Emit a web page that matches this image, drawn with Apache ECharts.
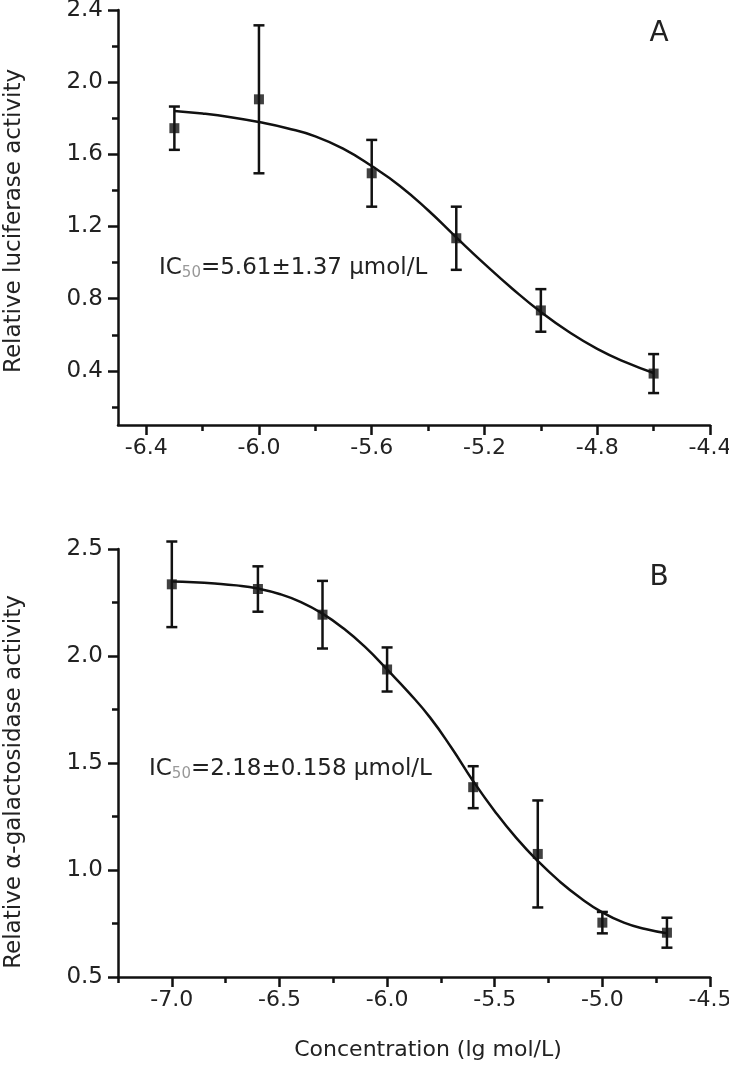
<!DOCTYPE html>
<html>
<head>
<meta charset="utf-8">
<script src="https://cdn.jsdelivr.net/npm/echarts@6/dist/echarts.min.js"></script>
<style>html,body{margin:0;padding:0;background:#fff}#c{width:729px;height:1068px}</style>
</head>
<body>
<div id="c"></div>
<script>
// ---- Panel A data ----
const xA = [-6.3, -6.0, -5.6, -5.3, -5.0, -4.6];
const meanA = [1.745, 1.905, 1.495, 1.135, 0.735, 0.385];
const errA = [0.12, 0.41, 0.185, 0.175, 0.118, 0.108];
const curveXA = [-6.3, -6.2, -6.1, -6.0, -5.9, -5.8, -5.7, -5.6, -5.5, -5.4, -5.3, -5.2, -5.1, -5.0, -4.9, -4.8, -4.7, -4.6];
const curveYA = [1.840, 1.826, 1.806, 1.779, 1.745, 1.700, 1.630, 1.535, 1.425, 1.290, 1.140, 0.993, 0.854, 0.726, 0.615, 0.522, 0.448, 0.388];
const yTicksA = [0.4, 0.8, 1.2, 1.6, 2.0, 2.4];
const yMinorA = [0.2, 0.6, 1.0, 1.4, 1.8, 2.2];
const xTicksA = [-6.4, -6.0, -5.6, -5.2, -4.8, -4.4];
const xMinorA = [-6.2, -5.8, -5.4, -5.0, -4.6];

// ---- Panel B data ----
const xB = [-7.0, -6.6, -6.3, -6.0, -5.6, -5.3, -5.0, -4.7];
const meanB = [2.335, 2.313, 2.193, 1.937, 1.387, 1.075, 0.754, 0.707];
const errB = [0.200, 0.106, 0.158, 0.103, 0.098, 0.250, 0.050, 0.070];
const curveXB = [-7.0, -6.9, -6.8, -6.7, -6.6, -6.5, -6.4, -6.3, -6.2, -6.1, -6.0, -5.9, -5.8, -5.7, -5.6, -5.5, -5.4, -5.3, -5.2, -5.1, -5.0, -4.9, -4.8, -4.7];
const curveYB = [2.348, 2.345, 2.339, 2.330, 2.315, 2.290, 2.252, 2.198, 2.127, 2.040, 1.937, 1.830, 1.712, 1.570, 1.415, 1.275, 1.150, 1.042, 0.948, 0.868, 0.802, 0.754, 0.724, 0.704];
const yTicksB = [0.5, 1.0, 1.5, 2.0, 2.5];
const yMinorB = [0.75, 1.25, 1.75, 2.25];
const xTicksB = [-7.0, -6.5, -6.0, -5.5, -5.0, -4.5];
const xMinorB = [-7.25, -6.75, -6.25, -5.75, -5.25, -4.75];

const FONT = 'DejaVu Sans';
const INK = '#111';
const TXT = '#222';

function majorX(grid, min, max, ticks) {
  return {
    type: 'value', gridIndex: grid, position: 'bottom', min: min, max: max,
    axisLine: { onZero: false, lineStyle: { color: INK, width: 2.5 } },
    axisTick: { customValues: ticks, length: 10, lineStyle: { color: INK, width: 2.5 } },
    axisLabel: { customValues: ticks, formatter: v => v.toFixed(1), margin: 12, color: TXT, fontSize: 22, fontFamily: FONT, hideOverlap: false },
    splitLine: { show: false }
  };
}
function minorX(grid, min, max, ticks) {
  return {
    type: 'value', gridIndex: grid, position: 'bottom', min: min, max: max,
    axisLine: { show: false, onZero: false },
    axisTick: { customValues: ticks, length: 6, lineStyle: { color: INK, width: 2.5 } },
    axisLabel: { show: false }, splitLine: { show: false }
  };
}
function majorY(grid, min, max, ticks) {
  return {
    type: 'value', gridIndex: grid, position: 'left', min: min, max: max,
    axisLine: { onZero: false, lineStyle: { color: INK, width: 2.5 } },
    axisTick: { customValues: ticks, length: 10, lineStyle: { color: INK, width: 2.5 } },
    axisLabel: { customValues: ticks, formatter: v => v.toFixed(1), margin: 15, color: TXT, fontSize: 23, fontFamily: FONT },
    splitLine: { show: false }
  };
}
function minorY(grid, min, max, ticks) {
  return {
    type: 'value', gridIndex: grid, position: 'left', min: min, max: max,
    axisLine: { show: false, onZero: false },
    axisTick: { customValues: ticks, length: 6, lineStyle: { color: INK, width: 2.5 } },
    axisLabel: { show: false }, splitLine: { show: false }
  };
}

function errData(xs, means, errs) {
  return xs.map((x, i) => [x, means[i] - errs[i], means[i] + errs[i]]);
}
function errRender(params, api) {
  const x = api.value(0);
  const pLo = api.coord([x, api.value(1)]);
  const pHi = api.coord([x, api.value(2)]);
  const w = 5.5;
  const st = { stroke: INK, lineWidth: 2.5 };
  return {
    type: 'group', children: [
      { type: 'line', shape: { x1: pHi[0], y1: pHi[1], x2: pLo[0], y2: pLo[1] }, style: st },
      { type: 'line', shape: { x1: pHi[0] - w, y1: pHi[1], x2: pHi[0] + w, y2: pHi[1] }, style: st },
      { type: 'line', shape: { x1: pLo[0] - w, y1: pLo[1], x2: pLo[0] + w, y2: pLo[1] }, style: st }
    ]
  };
}

const richIC = {
  m: { fontSize: 23, fontFamily: FONT, fill: TXT },
  s: { fontSize: 15, fontFamily: FONT, fill: '#999', padding: [10, 0, 0, 0] }
};

const chart = echarts.init(document.getElementById('c'), null, { renderer: 'canvas' });
chart.setOption({
  animation: false,
  backgroundColor: '#fff',
  grid: [
    { left: 118, top: 10, width: 592, height: 415, outerBoundsMode: 'none', containLabel: false },
    { left: 118, top: 549, width: 592, height: 428, outerBoundsMode: 'none', containLabel: false }
  ],
  xAxis: [
    majorX(0, -6.5, -4.4, xTicksA),
    minorX(0, -6.5, -4.4, xMinorA),
    majorX(1, -7.25, -4.5, xTicksB),
    minorX(1, -7.25, -4.5, xMinorB)
  ],
  yAxis: [
    majorY(0, 0.1, 2.4, yTicksA),
    minorY(0, 0.1, 2.4, yMinorA),
    majorY(1, 0.5, 2.5, yTicksB),
    minorY(1, 0.5, 2.5, yMinorB)
  ],
  series: [
    { type: 'line', xAxisIndex: 0, yAxisIndex: 0, data: curveXA.map((x, i) => [x, curveYA[i]]), smooth: true, showSymbol: false, lineStyle: { color: INK, width: 2.5 }, z: 2 },
    { type: 'custom', xAxisIndex: 0, yAxisIndex: 0, data: errData(xA, meanA, errA), renderItem: errRender, z: 3 },
    { type: 'scatter', xAxisIndex: 0, yAxisIndex: 0, data: xA.map((x, i) => [x, meanA[i]]), symbol: 'rect', symbolSize: 10, itemStyle: { color: INK }, z: 4 },
    { type: 'line', xAxisIndex: 2, yAxisIndex: 2, data: curveXB.map((x, i) => [x, curveYB[i]]), smooth: true, showSymbol: false, lineStyle: { color: INK, width: 2.5 }, z: 2 },
    { type: 'custom', xAxisIndex: 2, yAxisIndex: 2, data: errData(xB, meanB, errB), renderItem: errRender, z: 3 },
    { type: 'scatter', xAxisIndex: 2, yAxisIndex: 2, data: xB.map((x, i) => [x, meanB[i]]), symbol: 'rect', symbolSize: 10, itemStyle: { color: INK }, z: 4 }
  ],
  graphic: [
    { type: 'text', x: 659, y: 34, style: { text: 'A', font: '28px "DejaVu Sans"', fill: TXT, align: 'center', verticalAlign: 'middle' } },
    { type: 'text', x: 659, y: 578, style: { text: 'B', font: '28px "DejaVu Sans"', fill: TXT, align: 'center', verticalAlign: 'middle' } },
    { type: 'text', x: 159, y: 268, style: { text: '{m|IC}{s|50}{m|=5.61±1.37 μmol/L}', align: 'left', verticalAlign: 'middle', rich: richIC } },
    { type: 'text', x: 149, y: 769, style: { text: '{m|IC}{s|50}{m|=2.18±0.158 μmol/L}', align: 'left', verticalAlign: 'middle', rich: richIC } },
    { type: 'text', x: 14, y: 221, rotation: Math.PI / 2, style: { text: 'Relative luciferase activity', font: '23px "DejaVu Sans"', fill: TXT, align: 'center', verticalAlign: 'middle' } },
    { type: 'text', x: 14, y: 782, rotation: Math.PI / 2, style: { text: 'Relative α-galactosidase activity', font: '23px "DejaVu Sans"', fill: TXT, align: 'center', verticalAlign: 'middle' } },
    { type: 'text', x: 428, y: 1050, style: { text: 'Concentration (lg mol/L)', font: '22px "DejaVu Sans"', fill: TXT, align: 'center', verticalAlign: 'middle' } }
  ]
});
</script>
</body>
</html>
